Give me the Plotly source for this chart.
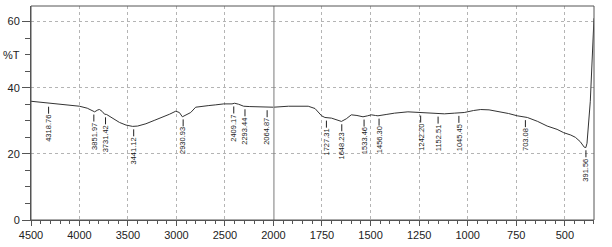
import numpy as np
import plotly.graph_objects as go

# Spectrum, high-wavenumber part (4500 -> 2000 cm-1)
wn_left = [4500, 4400, 4339, 4200, 4000, 3920, 3870, 3844, 3810, 3793, 3765, 3742, 3720,
           3650, 3588, 3520, 3452, 3400, 3315, 3230, 3145, 3070, 3007, 2970, 2939, 2900,
           2853, 2802, 2740, 2666, 2600, 2512, 2427, 2400, 2360, 2307, 2250, 2188, 2069, 2000]
t_left = [35.9, 35.6, 35.2, 34.9, 34.4, 33.8, 33.0, 32.7, 33.3, 33.4, 32.8, 32.0, 31.9,
          30.6, 29.5, 28.7, 28.3, 28.4, 29.1, 30.1, 31.0, 32.0, 32.9, 32.5, 31.2, 31.8,
          32.5, 34.1, 34.4, 34.6, 34.8, 35.1, 35.1, 35.3, 35.0, 34.4, 34.3, 34.2, 34.1, 34.1]

# Spectrum, low-wavenumber part (2000 -> 350 cm-1)
wn_right = [2000, 1923, 1821, 1786, 1752, 1735, 1701, 1670, 1650, 1625, 1599, 1570, 1539,
            1515, 1496, 1475, 1462, 1420, 1377, 1308, 1248, 1210, 1171, 1120, 1069, 1018,
            970, 933, 890, 847, 790, 745, 693, 640, 591, 540, 506, 470, 446, 421, 400, 392,
            386, 369, 357, 350]
t_right = [34.1, 34.4, 34.4, 33.7, 31.5, 31.0, 30.8, 30.2, 29.8, 30.6, 31.8, 31.6, 31.2,
           31.5, 31.8, 31.6, 31.5, 31.9, 32.3, 32.7, 32.5, 32.4, 32.2, 32.1, 32.3, 32.5,
           33.1, 33.4, 33.3, 32.9, 32.2, 31.5, 31.0, 29.8, 28.4, 27.4, 26.4, 25.7, 25.0,
           23.7, 22.0, 21.9, 23.2, 35.9, 50.4, 61.0]

peak_wn = [4318.76, 3851.97, 3731.42, 3441.12, 2930.93, 2409.17, 2293.44, 2064.87,
           1727.31, 1648.23, 1533.46, 1456.30, 1242.20, 1152.51, 1045.45, 703.08, 391.56]
peak_labels = ["4318.76", "3851.97", "3731.42", "3441.12", "2930.93", "2409.17", "2293.44",
               "2064.87", "1727.31", "1648.23", "1533.46", "1456.30", "1242.20", "1152.51",
               "1045.45", "703.08", "391.56"]

left_ticks = [4500, 4000, 3500, 3000, 2500, 2000]
right_ticks = [1750, 1500, 1250, 1000, 750, 500]
y_ticks = [0, 20, 40, 60]

split = 0.4306
line_col = "#555555"
grid_col = "#b4b4b4"
font_fam = "Liberation Sans, Arial, sans-serif"

fig = go.Figure()
fig.add_trace(go.Scatter(x=wn_left, y=t_left, mode="lines", xaxis="x", yaxis="y",
                         line=dict(color="#333333", width=1), showlegend=False))
fig.add_trace(go.Scatter(x=wn_right, y=t_right, mode="lines", xaxis="x2", yaxis="y",
                         line=dict(color="#333333", width=1), showlegend=False))

all_wn = np.array(wn_left + wn_right[1:])[::-1]
all_t = np.array(t_left + t_right[1:])[::-1]

shapes = []
annotations = []
for w, lab in zip(peak_wn, peak_labels):
    xr = "x" if w > 2000 else "x2"
    yv = float(np.interp(w, all_wn, all_t))
    shapes.append(dict(type="line", xref=xr, yref="y", xsizemode="scaled",
                       ysizemode="pixel", yanchor=yv, x0=w, x1=w, y0=-3, y1=-10,
                       line=dict(color="#222222", width=1)))
    annotations.append(dict(x=w, y=yv, xref=xr, yref="y", text=lab, showarrow=False,
                            textangle=-90, yanchor="top", xanchor="center", yshift=-10,
                            font=dict(family=font_fam, size=7.5, color="#222222"),
                            borderpad=0))

# divider at 2000 and frame
shapes.append(dict(type="line", xref="x2", yref="paper", x0=2000, x1=2000, y0=0, y1=1,
                   line=dict(color="#7a7a7a", width=2)))
shapes.append(dict(type="rect", xref="paper", yref="paper", x0=0, x1=1, y0=0, y1=1,
                   line=dict(color=line_col, width=1)))

annotations.append(dict(x=-0.034, y=50, xref="paper", yref="y", text="%T", showarrow=False,
                        xanchor="center", yanchor="middle",
                        font=dict(family=font_fam, size=11, color="#222222")))

axis_common = dict(showline=True, linecolor=line_col, linewidth=1, ticks="outside",
                   tickcolor=line_col, ticklen=5, showgrid=True, gridcolor=grid_col,
                   griddash="dot", gridwidth=1, zeroline=False,
                   tickfont=dict(family=font_fam, size=11, color="#222222"))

fig.update_layout(
    width=612, height=247,
    margin=dict(l=31, r=14, t=6, b=19),
    paper_bgcolor="white", plot_bgcolor="white",
    xaxis=dict(domain=[0, split], range=[4500, 2000], tickvals=left_ticks,
               minor=dict(dtick=100, ticks="outside", ticklen=3, tickcolor=line_col,
                          showgrid=False), anchor="y", **axis_common),
    xaxis2=dict(domain=[split, 1], range=[2000, 350], tickvals=right_ticks,
                minor=dict(dtick=50, ticks="outside", ticklen=3, tickcolor=line_col,
                           showgrid=False), anchor="y", **axis_common),
    yaxis=dict(range=[0, 64.7], tickvals=y_ticks, anchor="x",
               minor=dict(dtick=5, ticks="outside", ticklen=5, tickcolor=line_col,
                          showgrid=False),
               **{**axis_common, "ticklen": 8}),
    shapes=shapes, annotations=annotations,
)

fig.write_html("out.html")
